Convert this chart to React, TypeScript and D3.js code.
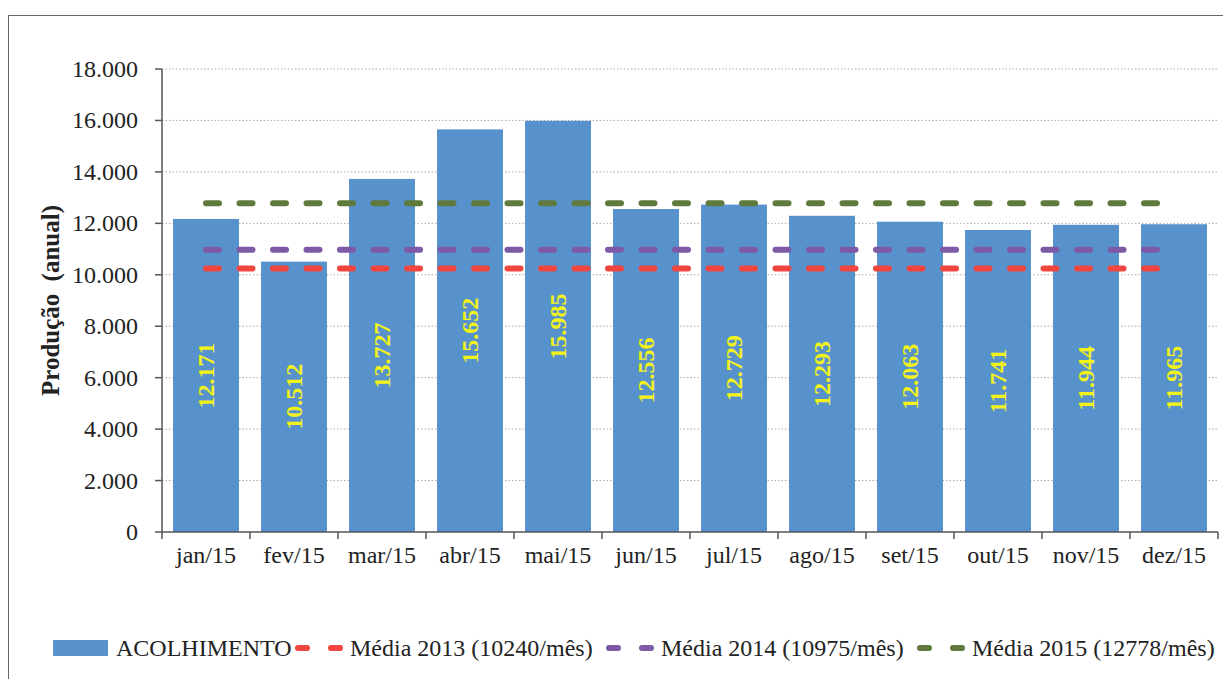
import React from "react";
import * as d3 from "d3";

const categories = ["jan/15", "fev/15", "mar/15", "abr/15", "mai/15", "jun/15", "jul/15", "ago/15", "set/15", "out/15", "nov/15", "dez/15"];
const values = [12171, 10512, 13727, 15652, 15985, 12556, 12729, 12293, 12063, 11741, 11944, 11965];
const yTicks = [0, 2000, 4000, 6000, 8000, 10000, 12000, 14000, 16000, 18000];
const averages = [
  { label: "Média 2013 (10240/mês)", value: 10240, color: "#f0463f" },
  { label: "Média 2014 (10975/mês)", value: 10975, color: "#7d5aa6" },
  { label: "Média 2015 (12778/mês)", value: 12778, color: "#5f7a3c" },
];
const barLabel = "ACOLHIMENTO";
const yTitle = "Produção (anual)";

const W = 1223;
const H = 679;
const left = 162;
const right = 1218;
const top = 69;
const bottom = 532;
const FONT = "Liberation Serif, Times New Roman, Times, serif";
const BAR = "#5892cc";

const fmt = (v: number) => d3.format(",")(v).replace(/,/g, ".");

export default function App() {
  const x = d3.scaleBand<string>().domain(categories).range([left, right]).paddingInner(0.25).paddingOuter(0.125);
  const xb = d3.scaleBand<string>().domain(categories).range([left, right]);
  const y = d3.scaleLinear().domain([0, 18000]).range([bottom, top]);
  const line = d3
    .line<string>()
    .x((c) => (xb(c) as number) + xb.bandwidth() / 2);

  const legendItems = [
    { type: "bar", label: barLabel, color: BAR, x: 53, tx: 116 },
    { type: "line", label: averages[0].label, color: averages[0].color, x: 295, tx: 350 },
    { type: "line", label: averages[1].label, color: averages[1].color, x: 606, tx: 661 },
    { type: "line", label: averages[2].label, color: averages[2].color, x: 917, tx: 972 },
  ];
  const ly = 648;

  return (
    <svg
      width={W}
      height={H}
      style={{ position: "fixed", left: 0, top: 0, background: "#fff", fontFamily: FONT }}
    >
      <rect x={8.5} y={15.5} width={1240} height={700} fill="#fff" stroke="#666" strokeWidth={1} />
      {/* gridlines */}
      {yTicks.filter((t) => t > 0).map((t) => (
        <line key={t} x1={left} x2={right} y1={y(t)} y2={y(t)} stroke="#aaa" strokeWidth={1} strokeDasharray="1.5 2" />
      ))}
      {/* bars */}
      {categories.map((c, i) => (
        <rect key={c} x={x(c)} y={y(values[i])} width={x.bandwidth()} height={bottom - y(values[i])} fill={BAR} />
      ))}
      {/* average lines */}
      {averages.map((a) => (
        <path
          key={a.label}
          d={line.y(() => y(a.value))(categories) || ""}
          fill="none"
          stroke={a.color}
          strokeWidth={6}
          strokeLinecap="round"
          strokeDasharray="13 20.5"
        />
      ))}
      {/* bar labels */}
      {categories.map((c, i) => {
        const cx = (x(c) as number) + x.bandwidth() / 2;
        const cy = (y(values[i]) + bottom) / 2;
        return (
          <text
            key={c}
            transform={`translate(${cx},${cy}) rotate(-90)`}
            textAnchor="middle"
            dominantBaseline="central"
            fill="#f2f21a"
            fontWeight="bold"
            fontSize={24}
          >
            {fmt(values[i])}
          </text>
        );
      })}
      {/* y axis */}
      <line x1={left} x2={left} y1={top} y2={bottom} stroke="#555" strokeWidth={1.5} />
      {yTicks.map((t) => (
        <g key={t}>
          <line x1={left - 7} x2={left} y1={y(t)} y2={y(t)} stroke="#555" strokeWidth={1.5} />
          <text x={138} y={y(t)} textAnchor="end" dominantBaseline="central" fontSize={24} fill="#222">
            {fmt(t)}
          </text>
        </g>
      ))}
      {/* x axis */}
      <line x1={left} x2={right} y1={bottom} y2={bottom} stroke="#555" strokeWidth={1.5} />
      {categories.map((c) => (
        <line key={c} x1={(xb(c) as number) + xb.bandwidth()} x2={(xb(c) as number) + xb.bandwidth()} y1={bottom} y2={bottom + 7} stroke="#555" strokeWidth={1.5} />
      ))}
      <line x1={left} x2={left} y1={bottom} y2={bottom + 7} stroke="#555" strokeWidth={1.5} />
      {categories.map((c) => (
        <text key={c} x={(xb(c) as number) + xb.bandwidth() / 2} y={563} textAnchor="middle" fontSize={24} fill="#222">
          {c}
        </text>
      ))}
      {/* y title */}
      <text
        transform={`translate(50,${(top + bottom) / 2}) rotate(-90)`}
        textAnchor="middle"
        dominantBaseline="central"
        fontWeight="bold"
        fontSize={25}
        fill="#222"
        style={{ wordSpacing: "6px" }}
      >
        {yTitle}
      </text>
      {/* legend */}
      {legendItems.map((it) => (
        <g key={it.label}>
          {it.type === "bar" ? (
            <rect x={it.x} y={ly - 8} width={55} height={16} fill={it.color} />
          ) : (
            <path
              d={`M${it.x + 3},${ly} H${it.x + 45}`}
              stroke={it.color}
              strokeWidth={6}
              strokeLinecap="round"
              strokeDasharray="9 24"
            />
          )}
          <text x={it.tx} y={ly} dominantBaseline="central" fontSize={24} fill="#222">
            {it.label}
          </text>
        </g>
      ))}
    </svg>
  );
}
